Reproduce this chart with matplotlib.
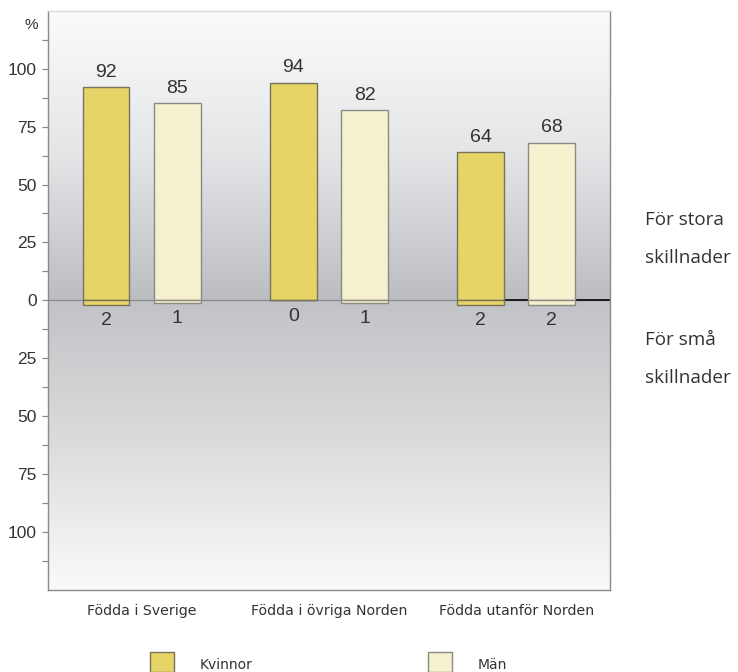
import numpy as np
import matplotlib
matplotlib.use("Agg")
import matplotlib.pyplot as plt
from matplotlib.colors import LinearSegmentedColormap

# Data
categories = ["Födda i Sverige", "Födda i övriga Norden", "Födda utanför Norden"]
kvinnor_stora = [92, 94, 64]
man_stora = [85, 82, 68]
kvinnor_sma = [2, 0, 2]
man_sma = [1, 1, 2]
series_names = ["Kvinnor", "Män"]
yticks = [-100, -75, -50, -25, 0, 25, 50, 75, 100]

col_k = "#e6d566"
col_m = "#f5f0cd"
edge_k = "#77725c"
edge_m = "#8a8a84"
txt = "#333333"
font = "Liberation Sans"

fig = plt.figure(figsize=(7.38, 6.72), dpi=100)
ax = fig.add_axes([0.065, 0.122, 0.7615, 0.862])
ax.set_xlim(-0.5, 2.5)
ax.set_ylim(-125, 125)

# vertical gradient background: light at top/bottom, grey at zero
vals = np.linspace(-125, 125, 500)
g = np.where(vals >= 0, vals / 125.0, -vals / 125.0)
cmap_top = LinearSegmentedColormap.from_list("t", ["#bcbdc1", "#e4e5e7", "#fbfbfb"])
cmap_bot = LinearSegmentedColormap.from_list("b", ["#c2c3c6", "#dcdcde", "#fafafa"])
rgb = np.where((vals >= 0)[:, None], cmap_top(g)[:, :3], cmap_bot(g)[:, :3])
img = np.repeat(rgb[:, None, :], 2, axis=1)
ax.imshow(img, extent=(-0.5, 2.5, -125, 125), origin="lower", aspect="auto", zorder=0)

x = np.arange(len(categories))
off = 0.19
w = 0.25

ax.axhline(0, color="#8a8a8a", lw=0.9, zorder=1)
# dark baseline from the last group outwards
ax.plot([x[2] - off + w / 2, 2.5], [0, 0], color="#1a1a1a", lw=1.4, zorder=1.5,
        solid_capstyle="butt")

for vals_up, vals_dn, dx, fc, ec in [
    (kvinnor_stora, kvinnor_sma, -off, col_k, edge_k),
    (man_stora, man_sma, off, col_m, edge_m),
]:
    ax.bar(x + dx, vals_up, width=w, color=fc, edgecolor=ec, lw=1.0, zorder=2)
    dn = [-v for v in vals_dn]
    ax.bar(x + dx, dn, width=w, color=fc, edgecolor=ec, lw=1.0, zorder=2)
    for xi, v in zip(x + dx, vals_up):
        ax.text(xi, v + 6.4, str(v), ha="center", va="center", fontsize=14,
                color=txt, family=font)
    for xi, v in zip(x + dx, vals_dn):
        ax.text(xi, -v - 6.8, str(v), ha="center", va="center", fontsize=14,
                color=txt, family=font)

for s in ax.spines.values():
    s.set_color("#8a8a8a")
    s.set_linewidth(1.0)
ax.spines["top"].set_color("#d8d8d8")

ax.set_yticks(yticks)
ax.set_yticklabels([str(abs(t)) for t in yticks], fontsize=12.5, color=txt, family=font)
ax.set_yticks(np.arange(-112.5, 125, 25), minor=True)
ax.tick_params(axis="y", which="both", direction="out", length=4, color="#8a8a8a",
               width=0.9, pad=4)
ax.tick_params(axis="x", length=0, pad=10)
ax.set_xticks(x)
ax.set_xticklabels(categories, fontsize=10.2, color=txt, family="DejaVu Sans")
ax.text(-0.555, 119, "%", ha="right", va="center", fontsize=11, color=txt, family=font)

# side notes
side = dict(fontsize=13.6, color=txt, family="Open Sans", ha="left", va="center")
fig.text(645 / 738, 1 - 220 / 672, "För stora", **side)
fig.text(645 / 738, 1 - 258 / 672, "skillnader", **side)
fig.text(645 / 738, 1 - 340 / 672, "För små", **side)
fig.text(645 / 738, 1 - 378 / 672, "skillnader", **side)

# legend swatches along the bottom edge
for (x0, name, fc, ec) in [(150, series_names[0], col_k, edge_k),
                           (428, series_names[1], col_m, edge_m)]:
    fig.patches.append(plt.Rectangle((x0 / 738, 0), 24 / 738, 20 / 672,
                                     transform=fig.transFigure, facecolor=fc,
                                     edgecolor=ec, lw=1.0))
    fig.text((x0 + 50) / 738, 1 - 665 / 672, name, fontsize=10, color=txt,
             family="DejaVu Sans", ha="left", va="center")

fig.savefig("out.png", dpi=100, facecolor="white")
